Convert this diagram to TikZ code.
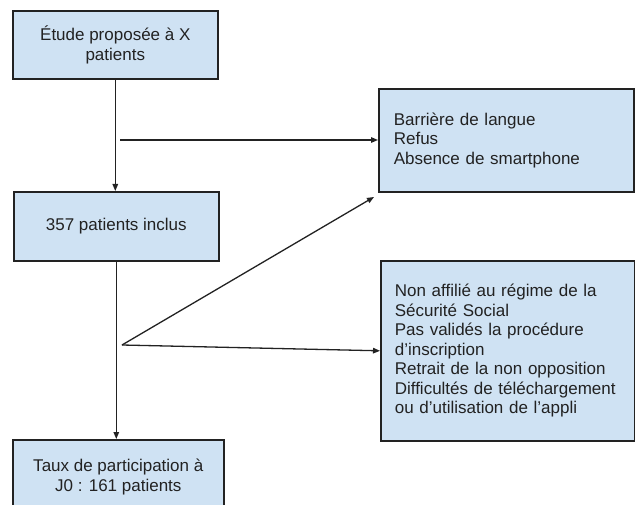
\documentclass[tikz,border=0pt]{standalone}
\usepackage{fontspec}
\setmainfont{Liberation Sans}
\usetikzlibrary{arrows.meta}
\definecolor{boxblue}{HTML}{CFE2F3}
\definecolor{edge}{HTML}{222222}
\begin{document}
\begin{tikzpicture}[x=1pt,y=-1pt,
  box/.style={draw=edge, line width=1.6pt, fill=boxblue, inner sep=0pt, text=edge,
    anchor=north west, align=center, font=\fontsize{17}{19.5}\selectfont},
  lbox/.style={box, align=left},
  arr/.style={draw=edge, line width=1.3pt, -{Triangle[length=7pt,width=5.5pt]}}]
\useasboundingbox (0,0) rectangle (635,505);
\clip (0,0) rectangle (635,505);
\node[box, minimum width=205pt, minimum height=68pt] (b1) at (12,10)
  {Étude proposée à X\\patients};
\node[box, minimum width=205pt, minimum height=69pt] (b2) at (13,191)
  {357 patients inclus};
\node[lbox, minimum width=255pt, minimum height=103pt, text width=225pt, inner xsep=15pt] (b3) at (378,88)
  {Barrière de langue\\Refus\\Absence de smartphone};
\node[lbox, minimum width=254pt, minimum height=180pt, text width=226pt, inner xsep=14pt] (b4) at (380,260)
  {Non affilié au régime de la\\Sécurité Social\\Pas validés la procédure\\d’inscription\\Retrait de la non opposition\\Difficultés de téléchargement\\ou d’utilisation de l’appli};
\node[box, minimum width=211pt, minimum height=74pt] (b5) at (12,439)
  {Taux de participation à\\J0 : 161 patients};
\coordinate (j1) at (120,140);
\coordinate (j2) at (122,345);
\coordinate (e3) at (374,197);
\draw[arr] (b1.south) -- (b1.south |- b2.north);
\draw[arr] (j1) -- (j1 -| b3.west);
\draw[arr] (j2) -- (e3);
\draw[arr] (j2) -- (b4.west);
\draw[arr] (b2.south) -- (b2.south |- b5.north);
\end{tikzpicture}
\end{document}
